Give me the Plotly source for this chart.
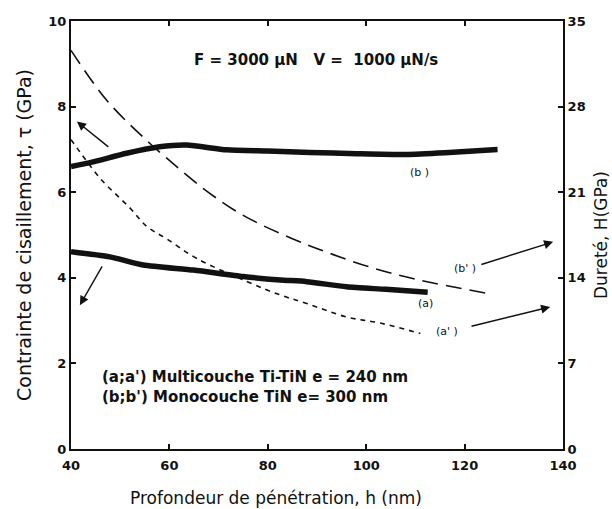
import plotly.graph_objects as go

# Penetration depth h (nm) and shear stress tau (GPa), left axis
h_a = [40, 47.9, 54.7, 64.9, 75, 82.5, 87.9, 96, 104, 112.5]
tau_a = [4.61, 4.49, 4.30, 4.18, 4.03, 3.95, 3.91, 3.79, 3.73, 3.66]

h_b = [40, 44.5, 51.3, 58, 63.5, 71.6, 80, 88.6, 98, 108, 116, 126.7]
tau_b = [6.60, 6.71, 6.91, 7.06, 7.10, 6.99, 6.96, 6.93, 6.90, 6.88, 6.92, 7.00]

# Hardness H (GPa), right axis
h_ap = [40, 41.8, 46, 52, 55.4, 59.4, 65.5, 75.7, 82.5, 87.9, 96, 102.8, 111]
H_ap = [25.3, 24.3, 22.1, 19.7, 18.2, 17.2, 15.6, 13.7, 12.6, 11.9, 10.8, 10.3, 9.45]

h_bp = [40, 47.3, 56, 59.4, 66.9, 75, 85, 92.6, 101.4, 111, 125]
H_bp = [32.6, 28.5, 25.0, 23.8, 21.3, 19.1, 17.2, 16.0, 14.8, 13.8, 12.7]

x_ticks = [40, 60, 80, 100, 120, 140]
y_ticks = [0, 2, 4, 6, 8, 10]
y2_ticks = [0, 7, 14, 21, 28, 35]

FONT = "DejaVu Sans, Arial, sans-serif"
INK = "#111111"

fig = go.Figure()
fig.add_trace(go.Scatter(x=h_b, y=tau_b, mode="lines",
                         line=dict(color=INK, width=5.5, shape="spline", smoothing=0.6), yaxis="y"))
fig.add_trace(go.Scatter(x=h_a, y=tau_a, mode="lines",
                         line=dict(color=INK, width=5.5, shape="spline", smoothing=0.6), yaxis="y"))
fig.add_trace(go.Scatter(x=h_bp, y=H_bp, mode="lines",
                         line=dict(color=INK, width=1.6, dash="16px,8px", shape="spline"), yaxis="y2"))
fig.add_trace(go.Scatter(x=h_ap, y=H_ap, mode="lines",
                         line=dict(color=INK, width=1.6, dash="5px,5px", shape="spline"), yaxis="y2"))

ann = []
def label(x, y, text, size=11, bold=False, anchor="center"):
    t = f"<b>{text}</b>" if bold else text
    ann.append(dict(x=x, y=y, xref="x", yref="y", text=t, showarrow=False,
                    xanchor=anchor, font=dict(family=FONT, size=size, color=INK)))

def arrow(x0, y0, x1, y1):
    ann.append(dict(x=x1, y=y1, ax=x0, ay=y0, xref="x", yref="y", axref="x", ayref="y",
                    text="", showarrow=True, arrowhead=2, arrowsize=1.3, arrowwidth=1.4,
                    arrowcolor=INK))

label(89.8, 9.09, "F = 3000 µN   V =  1000 µN/s", size=15, bold=True)
label(110.8, 6.45, "(b )", size=11)
label(112.0, 3.39, "(a)", size=11)
label(120.1, 4.22, "(b' )", size=11)
label(116.4, 2.74, "(a' )", size=11)
label(45.9, 1.69, "(a;a') Multicouche Ti-TiN e = 240 nm", size=15, bold=True, anchor="left")
label(45.9, 1.22, "(b;b') Monocouche TiN e= 300 nm", size=15, bold=True, anchor="left")

arrow(47.9, 7.03, 41.2, 7.65)    # toward tau axis, curve b
arrow(46.5, 4.3, 41.8, 3.36)     # toward tau axis, curve a
arrow(123.1, 4.30, 138.0, 4.84)  # toward H axis, curve b'
arrow(121.1, 2.86, 137.4, 3.32)  # toward H axis, curve a'

# x-axis title, set a little left of the plot centre, below the tick labels
ann.append(dict(x=0.417, y=-0.115, xref="paper", yref="paper", yanchor="middle",
                text="Profondeur de pénétration, h (nm)", showarrow=False,
                font=dict(family=FONT, size=17, color=INK)))

axis_common = dict(showline=True, linecolor=INK, linewidth=2, ticks="inside", ticklen=5,
                   tickcolor=INK, tickwidth=1.5, showgrid=False, zeroline=False, automargin=False,
                   tickfont=dict(family=FONT, size=13, color=INK, weight="bold"))

fig.update_layout(
    width=612, height=509, showlegend=False,
    plot_bgcolor="white", paper_bgcolor="white",
    margin=dict(l=71, r=49, t=21, b=60),
    font=dict(family=FONT, color=INK),
    annotations=ann,
    xaxis=dict(range=[40, 140], tickvals=x_ticks, mirror="ticks", ticklabelstandoff=3,
               **axis_common),
    yaxis=dict(range=[0, 10], tickvals=y_ticks,
               title=dict(text="Contrainte de cisaillement, τ (GPa)", font=dict(size=19), standoff=12),
               **axis_common),
    yaxis2=dict(range=[0, 35], tickvals=y2_ticks, overlaying="y", side="right",
                title=dict(text="Dureté, H(GPa)", font=dict(size=17), standoff=10),
                **axis_common),
)

fig.write_html("out.html")
